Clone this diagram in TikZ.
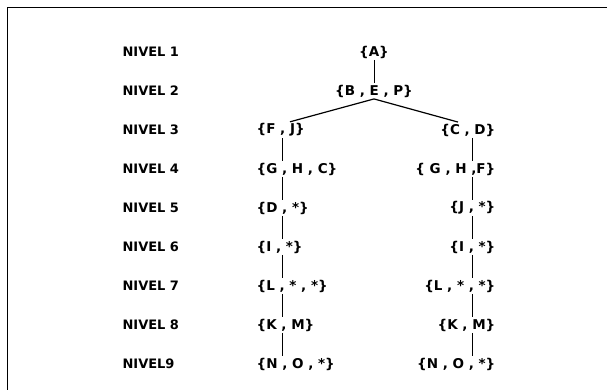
\documentclass[tikz,border=0pt]{standalone}
\usepackage{fontspec}
\setmainfont{DejaVu Sans}
\newcommand{\cj}[1]{\{#1\}}

\begin{document}
\begin{tikzpicture}[x=1pt,y=-1pt,
		nivel/.style={anchor=west,font=\bfseries\fontsize{13}{15}\selectfont},
		conj/.style={font=\bfseries\fontsize{13.5}{15}\selectfont,inner sep=1.5pt},
		rama/.style={line width=1.2pt},
		liga/.style={line width=.8pt}]
			\useasboundingbox (0,0) rectangle (607,390);
			% frame
			\draw[line width=1.4pt] (607,7.5) -- (7.5,7.5) -- (7.5,390);
			% levels
			\foreach \i in {1,...,8}
				\node[nivel] (lv\i) at (119,{52+39*(\i-1)}) {NIVEL \i};
			\node[nivel] (lv9) at (119,{52+39*8}) {NIVEL9};
			% root
			\node[conj] (a) at (lv1 -| 374,0) {\cj{A}};
			\node[conj] (bep) at (lv2 -| 374,0) {\cj{B , E , P}};
			\draw[liga] (a.south) -- (bep.north);
			% left branch
			\node[conj,anchor=west] (l3) at (lv3 -| 255,0) {\cj{F , J}};
			\node[conj,anchor=west] (l4) at (lv4 -| 255,0) {\cj{G , H , C}};
			\node[conj,anchor=west] (l5) at (lv5 -| 255,0) {\cj{D , *}};
			\node[conj,anchor=west] (l6) at (lv6 -| 255,0) {\cj{I , *}};
			\node[conj,anchor=west] (l7) at (lv7 -| 255,0) {\cj{L , * , *}};
			\node[conj,anchor=west] (l8) at (lv8 -| 255,0) {\cj{K , M}};
			\node[conj,anchor=west] (l9) at (lv9 -| 255,0) {\cj{N , O , *}};
			% right branch
			\node[conj,anchor=east] (r3) at (lv3 -| 497,0) {\cj{C , D}};
			\node[conj,anchor=east] (r4) at (lv4 -| 497,0) {\cj{ G , H ,F}};
			\node[conj,anchor=east] (r5) at (lv5 -| 497,0) {\cj{J , *}};
			\node[conj,anchor=east] (r6) at (lv6 -| 497,0) {\cj{I , *}};
			\node[conj,anchor=east] (r7) at (lv7 -| 497,0) {\cj{L  , * , *}};
			\node[conj,anchor=east] (r8) at (lv8 -| 497,0) {\cj{K , M}};
			\node[conj,anchor=east] (r9) at (lv9 -| 497,0) {\cj{N , O , *}};
			% branches
			\coordinate (lx) at (282,0);
			\coordinate (rx) at (472,0);
			\draw[rama] (l3.north -| 290,0) -- (bep.south) -- (r3.north -| 458,0);
			\foreach \p/\q in {3/4,4/5,5/6,6/7,7/8,8/9} {
				\draw[liga] (l\p.south -| lx) -- (l\q.north -| lx);
				\draw[liga] (r\p.south -| rx) -- (r\q.north -| rx);
			}
		\end{tikzpicture}
\end{document}
